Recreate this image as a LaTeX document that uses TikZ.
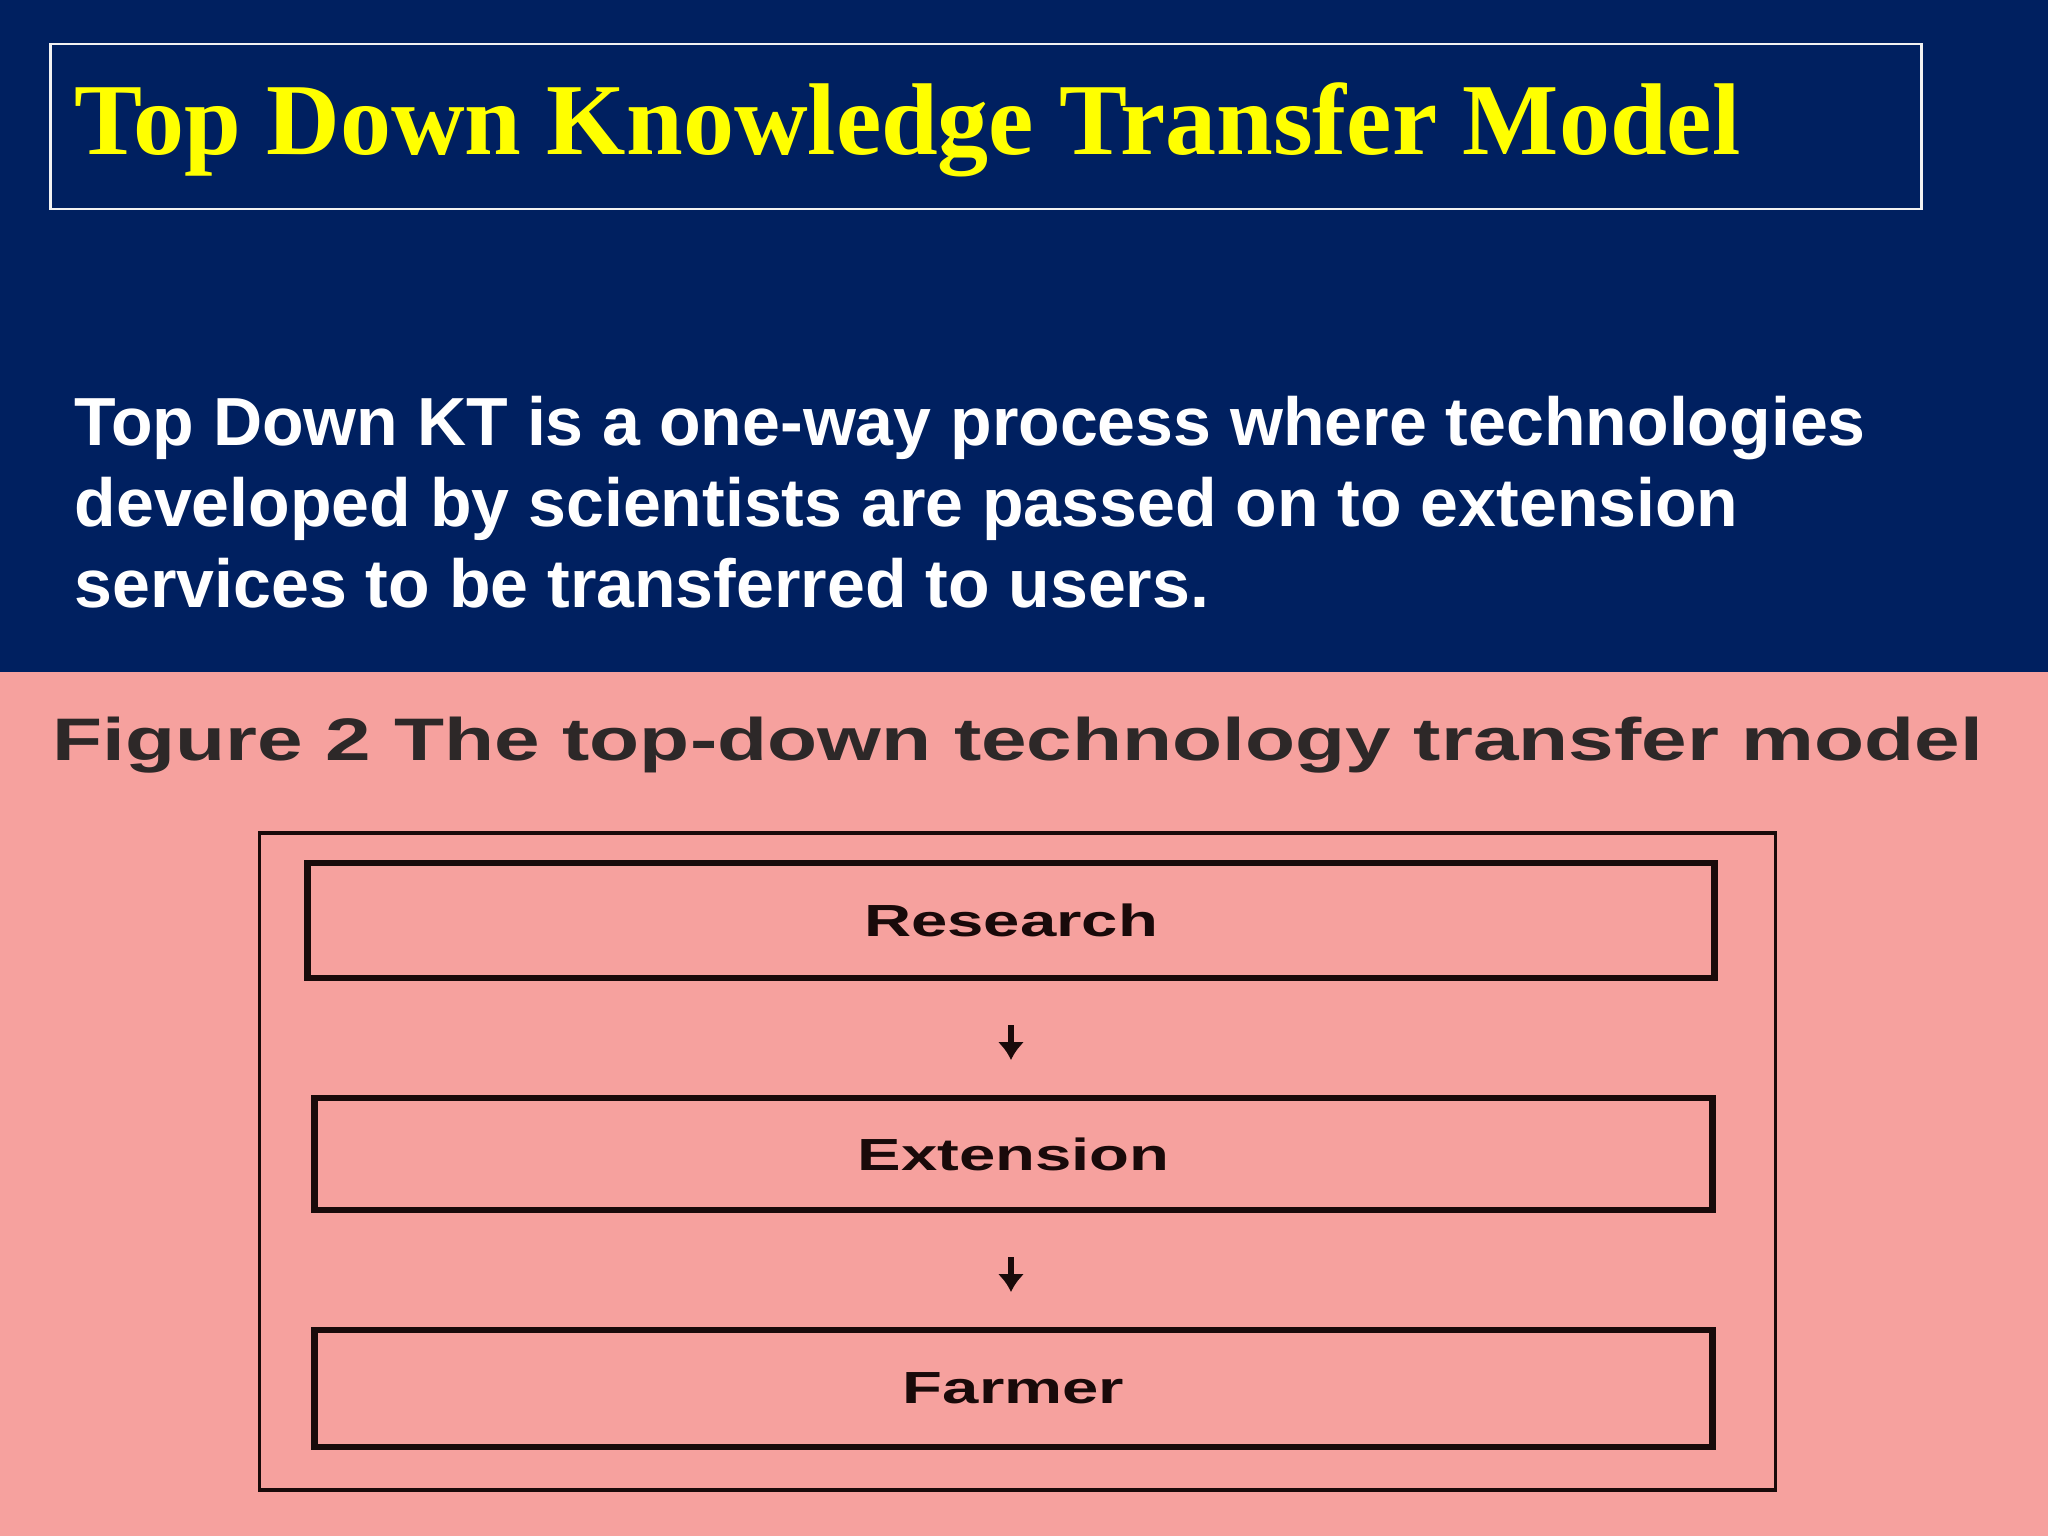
\documentclass[tikz,border=0pt]{standalone}
\usepackage{fontspec}
\usetikzlibrary{arrows.meta}
\setmainfont{Liberation Serif}
\newfontfamily\arialfam{Liberation Sans}
\definecolor{navybg}{RGB}{0,32,96}
\definecolor{pinkbg}{RGB}{246,161,158}
\definecolor{titleyellow}{RGB}{255,255,0}
\definecolor{capgrey}{RGB}{45,40,40}
\definecolor{boxline}{RGB}{25,10,10}
\newcommand\stagelabel[1]{\raisebox{-1.4pt}{\scalebox{1.45}[1]{#1}}}
\tikzset{
  stagebox/.style={draw=boxline, line width=1.8pt, rectangle, inner sep=0pt, outer sep=0pt,
     font=\arialfam\bfseries\fontsize{12.8}{15}\selectfont, text=boxline},
  flowarrow/.style={draw=boxline, line width=1.8pt, -{Latex[length=5.1pt,width=7.6pt]},
     shorten <=13.4pt, shorten >=10.8pt},
}
\begin{document}
\begin{tikzpicture}[x=0.01cm, y=-0.01cm]
\useasboundingbox (0,0) rectangle (2048,1536);
\fill[navybg] (0,0) rectangle (2048,672);
\fill[pinkbg] (0,672) rectangle (2048,1536);
% title
\node[draw=white!90!gray, line width=0.7pt, rectangle, inner sep=0pt, outer sep=0pt,
      minimum width=18.70cm, minimum height=1.65cm] (titlebox) at (986,126.5) {};
\node[anchor=base west, inner sep=0pt, text=titleyellow,
      font=\bfseries\fontsize{29.0}{34}\selectfont] (title) at (74,154) {Top Down Knowledge Transfer Model};
% body text
\node[anchor=north west, inner sep=0pt, align=left, text=white,
      font=\arialfam\bfseries\fontsize{19.35}{23.05}\selectfont] (body) at (74,395)
  {Top Down KT is a one-way process where technologies\\
   developed by scientists are passed on to extension\\
   services to be transferred to users.};
% caption
\node[anchor=base west, inner sep=0pt, text=capgrey,
      font=\arialfam\bfseries\fontsize{17.07}{20}\selectfont] (caption) at (52,760)
  {\resizebox{19.29cm}{\height}{Figure 2 The top-down technology transfer model}};
% outer frame
\node[draw=boxline, line width=1.1pt, rectangle, inner sep=0pt, outer sep=0pt,
      minimum width=15.15cm, minimum height=6.57cm] (frame) at (1017.5,1161.5) {};
% stages
\node[stagebox, minimum width=14.06cm, minimum height=1.15cm] (research) at (1011,920.5)
  {\stagelabel{Research}};
\node[stagebox, minimum width=13.97cm, minimum height=1.12cm] (extension) at (1013.5,1154)
  {\stagelabel{Extension}};
\node[stagebox, minimum width=13.97cm, minimum height=1.17cm] (farmer) at (1013.5,1388.5)
  {\stagelabel{Farmer}};
% arrows
\draw[flowarrow] (research.south) -- (research.south |- extension.north);
\draw[flowarrow] (research.south |- extension.south) -- (research.south |- farmer.north);
\end{tikzpicture}
\end{document}
